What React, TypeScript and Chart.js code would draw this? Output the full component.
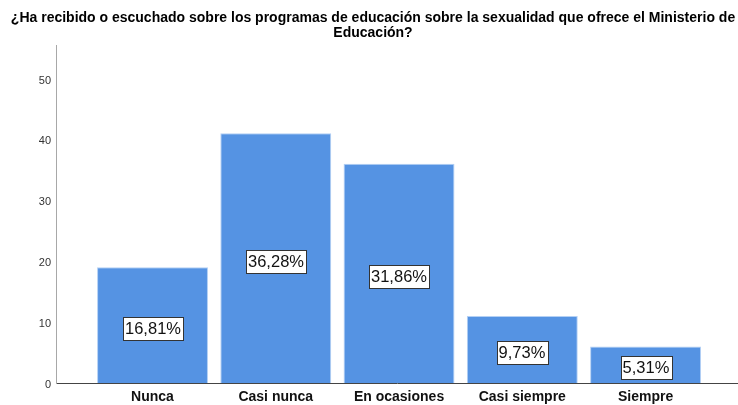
import React, { useEffect, useRef } from "react";
import { Chart, registerables } from "chart.js";

Chart.register(...registerables);

const TITLE_LINES = [
  "¿Ha recibido o escuchado sobre los programas de educación sobre la sexualidad que ofrece el Ministerio de",
  "Educación?",
];
const CATEGORIES = ["Nunca", "Casi nunca", "En ocasiones", "Casi siempre", "Siempre"];
const COUNTS = [19, 41, 36, 11, 6];
const PERCENT_LABELS = ["16,81%", "36,28%", "31,86%", "9,73%", "5,31%"];
const Y_TICKS = [0, 10, 20, 30, 40, 50];

const FONT = "'Liberation Sans', Arial, sans-serif";

const titlePlugin = {
  id: "spssTitle",
  afterDraw(chart: any) {
    const ctx = chart.ctx;
    ctx.save();
    ctx.fillStyle = "#000";
    ctx.font = `bold 14px ${FONT}`;
    ctx.textAlign = "center";
    ctx.textBaseline = "middle";
    const cx = 373;
    TITLE_LINES.forEach((line, i) => {
      ctx.fillText(line, cx, 18 + i * 15);
    });
    ctx.restore();
  },
};

const percentPlugin = {
  id: "percentLabels",
  afterDatasetsDraw(chart: any) {
    const ctx = chart.ctx;
    const meta = chart.getDatasetMeta(0);
    ctx.save();
    ctx.font = `16.5px ${FONT}`;
    ctx.textAlign = "center";
    ctx.textBaseline = "middle";
    meta.data.forEach((bar: any, i: number) => {
      const label = PERCENT_LABELS[i];
      const cx = Math.round(bar.x);
      const cy = Math.round((bar.y + bar.base) / 2 + 2.5);
      const w = Math.round(ctx.measureText(label).width + 4);
      const h = 23;
      const x0 = Math.round(cx - w / 2) + 0.5;
      const y0 = Math.round(cy - h / 2) + 0.5;
      ctx.fillStyle = "#fff";
      ctx.fillRect(x0, y0, w, h);
      ctx.strokeStyle = "#333";
      ctx.lineWidth = 1;
      ctx.strokeRect(x0, y0, w, h);
      ctx.fillStyle = "#111";
      ctx.fillText(label, cx, cy + 1);
    });
    ctx.restore();
  },
};

export default function App() {
  const ref = useRef<HTMLCanvasElement | null>(null);

  useEffect(() => {
    document.body.style.margin = "0";
    const canvas = ref.current;
    if (!canvas) return;
    const chart = new Chart(canvas, {
      type: "bar",
      data: {
        datasets: [
          {
            data: COUNTS.map((v, i) => ({ x: i, y: v })),
            backgroundColor: "#5593e3",
            borderColor: "#b4d0f4",
            borderWidth: 1,
            barPercentage: 0.9,
            categoryPercentage: 1,
          },
        ],
      },
      options: {
        animation: false,
        responsive: false,
        maintainAspectRatio: false,
        devicePixelRatio: 1,
        layout: { padding: { top: 45, left: 0, right: 0, bottom: 0 } },
        plugins: {
          legend: { display: false },
          tooltip: { enabled: false },
          title: { display: false },
        },
        scales: {
          x: {
            type: "linear",
            offset: false,
            min: -0.783,
            max: 4.75,
            grid: { display: false, drawTicks: false },
            border: { display: true, color: "#444", width: 1 },
            afterBuildTicks: (scale: any) => {
              scale.ticks = CATEGORIES.map((_, i) => ({ value: i }));
            },
            afterFit: (scale: any) => {
              scale.height = 22;
            },
            ticks: {
              autoSkip: false,
              maxRotation: 0,
              padding: 6,
              color: "#111",
              font: { family: FONT, size: 14, weight: "bold" },
              callback: (v: any) => CATEGORIES[Math.round(Number(v))] ?? "",
            },
          },
          y: {
            type: "linear",
            min: 0,
            max: 55.5,
            grid: { display: false, drawTicks: false },
            border: { display: true, color: "#a8a8a8", width: 1 },
            afterBuildTicks: (scale: any) => {
              scale.ticks = Y_TICKS.map((v) => ({ value: v }));
            },
            afterFit: (scale: any) => {
              scale.width = 56;
            },
            ticks: {
              padding: 5,
              labelOffset: 2,
              color: "#333",
              font: { family: FONT, size: 11 },
            },
          },
        },
      },
      plugins: [titlePlugin, percentPlugin],
    });
    return () => chart.destroy();
  }, []);

  return (
    <div style={{ position: "fixed", left: 0, top: 0, width: 738, height: 405, background: "#fff" }}>
      <canvas ref={ref} width={738} height={405} style={{ width: 738, height: 405, display: "block" }} />
    </div>
  );
}
